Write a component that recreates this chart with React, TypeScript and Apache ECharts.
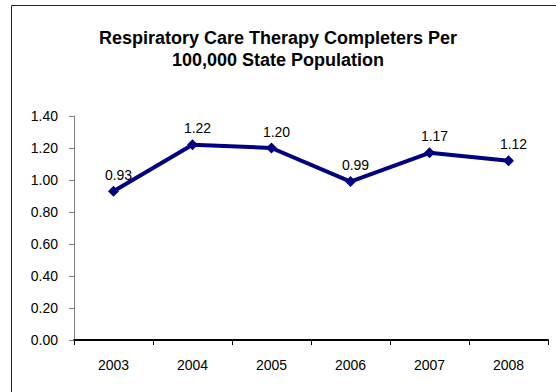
import React, { useEffect, useRef } from "react";
import * as echarts from "echarts";

const years = ["2003", "2004", "2005", "2006", "2007", "2008"];
const completers = [0.93, 1.22, 1.2, 0.99, 1.17, 1.12];
const titleText = "Respiratory Care Therapy Completers Per\n100,000 State Population";

export default function App() {
  const ref = useRef<HTMLDivElement>(null);
  useEffect(() => {
    if (!ref.current) return;
    const chart = echarts.init(ref.current, undefined, { renderer: "svg" });
    chart.setOption({
      animation: false,
      backgroundColor: "#fff",
      textStyle: { fontFamily: "Liberation Sans, Arial, sans-serif" },
      graphic: [
        {
          type: "rect",
          shape: { x: 11.5, y: 5.5, width: 600, height: 500 },
          style: { fill: "none", stroke: "#222", lineWidth: 1 },
          silent: true,
        },
      ],
      title: {
        text: titleText,
        left: "center",
        top: 22,
        textStyle: {
          fontSize: 18,
          fontWeight: "bold",
          color: "#000",
          lineHeight: 22,
          fontFamily: "Liberation Sans, Arial, sans-serif",
        },
      },
      grid: { left: 74, right: 8, top: 116, bottom: 52 },
      xAxis: {
        type: "category",
        data: years,
        boundaryGap: true,
        axisLine: { lineStyle: { color: "#000", width: 2 } },
        axisTick: { show: true, length: 5, lineStyle: { color: "#000" } },
        axisLabel: { color: "#000", fontSize: 14, margin: 18 },
      },
      yAxis: {
        type: "value",
        min: 0,
        max: 1.4,
        interval: 0.2,
        axisLine: { show: true, lineStyle: { color: "#808080", width: 1 } },
        axisTick: { show: true, length: 5, lineStyle: { color: "#808080" } },
        splitLine: { show: false },
        axisLabel: {
          color: "#000",
          fontSize: 14,
          margin: 16,
          formatter: (v: number) => v.toFixed(2),
        },
      },
      series: [
        {
          type: "line",
          data: completers,
          symbol: "diamond",
          symbolSize: 11,
          lineStyle: { color: "#000080", width: 4 },
          itemStyle: { color: "#000080" },
          label: {
            show: true,
            position: "top",
            offset: [5, 1],
            color: "#000",
            fontSize: 14,
            formatter: (p: any) => p.value.toFixed(2),
          },
        },
      ],
    });
    return () => chart.dispose();
  }, []);
  return (
    <div
      ref={ref}
      style={{ position: "fixed", left: 0, top: 0, width: 556, height: 392 }}
    />
  );
}
